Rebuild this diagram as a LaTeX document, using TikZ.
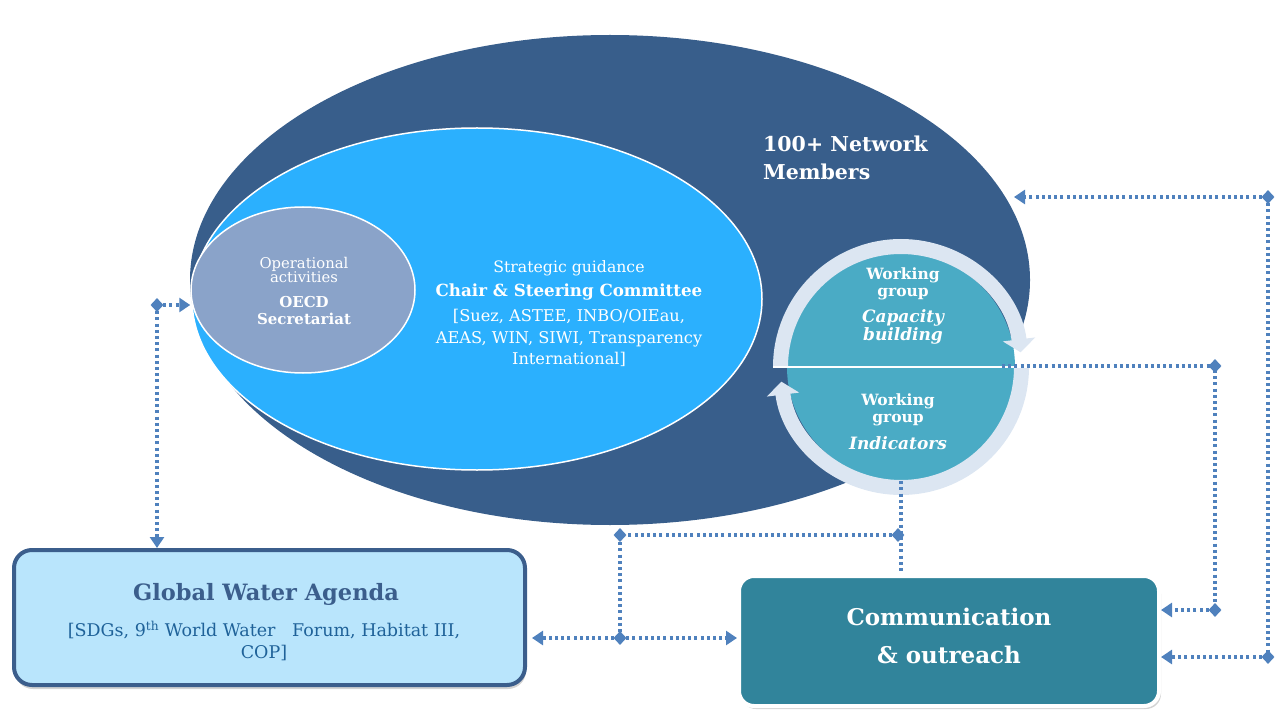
\documentclass[tikz,border=0pt]{standalone}
\usepackage{fontspec}
\setmainfont{DejaVu Serif}
\usetikzlibrary{shapes.geometric,arrows.meta,shadows}
\definecolor{netblue}{HTML}{385E8B}
\definecolor{chairblue}{HTML}{2BB0FE}
\definecolor{oecdgray}{HTML}{8AA3C9}
\definecolor{wgteal}{HTML}{4AABC5}
\definecolor{ringcol}{HTML}{DCE6F2}
\definecolor{commteal}{HTML}{31849B}
\definecolor{gwafill}{HTML}{B9E5FC}
\definecolor{gwaborder}{HTML}{3B5E8C}
\definecolor{gwatext}{HTML}{1F6299}
\definecolor{conn}{HTML}{4F81BD}
\tikzset{
  ell/.style={ellipse, inner sep=0pt},
  wtxt/.style={text=white, align=center, inner sep=0pt},
  dotline/.style={draw=conn, line width=3.2pt, dash pattern=on 3pt off 3.2pt},
  tip/.style={-{Triangle[length=11pt,width=14pt]}},
  dmd/.style={diamond, fill=conn, minimum width=13pt, minimum height=14pt, inner sep=0pt},
  ringline/.style={draw=ringcol, line width=15pt, -{Triangle[length=13pt,width=32pt]}}
}
\begin{document}
\begin{tikzpicture}[x=1pt,y=-1pt]
\useasboundingbox (0,0) rectangle (1282,711);
% ellipses
\node[ell, fill=netblue, minimum width=840pt, minimum height=490pt] (net) at (610,280) {};
\node[ell, fill=chairblue, draw=white, line width=1.5pt, minimum width=570pt, minimum height=342pt] (chair) at (477,299) {};
\node[ell, fill=oecdgray, draw=white, line width=1.5pt, minimum width=224pt, minimum height=166pt] (oecd) at (303,290) {};
% texts in ellipses
\node[wtxt, font=\fontsize{14.8}{14}\selectfont] (optxt) at (304,270) {Operational\\activities};
\node[wtxt, font=\bfseries\fontsize{15}{17}\selectfont] (oecdtxt) at (304,311) {OECD\\Secretariat};
\node[wtxt, font=\fontsize{15.7}{22}\selectfont] (sgtxt) at (569,268) {Strategic guidance};
\node[wtxt, font=\bfseries\fontsize{16.7}{22}\selectfont] (cstxt) at (569,292) {Chair \& Steering Committee};
\node[wtxt, font=\fontsize{16.2}{21.5}\selectfont] (memtxt) at (569,338) {[Suez, ASTEE, INBO/OIEau,\\AEAS, WIN, SIWI, Transparency\\International]};
\node[wtxt, align=left, anchor=north west, font=\bfseries\fontsize{20.5}{28}\selectfont] (nettxt) at (763,136) {100+ Network\\Members};
% working group circle
\node[circle, fill=wgteal, minimum size=228pt, inner sep=0pt] (wg) at (901,367) {};
\draw[ringline] (wg.center) ++(180:120.5) arc[start angle=180, end angle=353, radius=120.5];
\draw[ringline] (wg.center) ++(0:120.5) arc[start angle=0, end angle=173, radius=120.5];
\draw[white, line width=2.5pt] ([xshift=-14pt]wg.west) -- ([xshift=14pt]wg.east);
\node[wtxt, font=\bfseries\fontsize{15.5}{17}\selectfont] (wg1a) at (903,284) {Working\\group};
\node[wtxt, font=\bfseries\itshape\fontsize{17}{18}\selectfont] (wg1b) at (903,327) {Capacity\\building};
\node[wtxt, font=\bfseries\fontsize{15.5}{17}\selectfont] (wg2a) at (898,410) {Working\\group};
\node[wtxt, font=\bfseries\itshape\fontsize{17}{18}\selectfont] (wg2b) at (898,443) {Indicators};
% boxes
\node[draw=gwaborder, line width=4pt, fill=gwafill, rounded corners=18pt, minimum width=511pt, minimum height=135pt,
      drop shadow={opacity=0.35, shadow xshift=1pt, shadow yshift=-4pt}] (gwa) at (269.5,617.5) {};
\node[text=gwaborder, font=\bfseries\fontsize{22.5}{24}\selectfont, inner sep=0pt] (gwatitle) at (266,594) {Global Water Agenda};
\node[text=gwatext, align=center, inner sep=0pt, font=\fontsize{17.5}{22}\selectfont] (gwasub) at (264,641)
  {[SDGs, 9\textsuperscript{th} World Water\ \ \ Forum, Habitat III,\\COP]};
\node[draw=white, line width=4pt, fill=commteal, rounded corners=15pt, minimum width=420pt, minimum height=130pt,
      drop shadow={opacity=0.35, shadow xshift=2pt, shadow yshift=-3pt}] (comm) at (949,641) {};
\node[wtxt, font=\bfseries\fontsize{23}{38}\selectfont] (commtxt) at (949,636) {Communication\\\& outreach};
% connector points
\coordinate (netin) at (1014,197);
\node[dmd] (d1) at (157,305) {};
\node[dmd] (d2) at (1268,197) {};
\node[dmd] (d3) at (1268,657) {};
\node[dmd] (d4) at (1215,366) {};
\node[dmd] (d5) at (1215,610) {};
\node[dmd] (d6) at (898,535) {};
\node[dmd] (d7) at (620,535) {};
\node[dmd] (d8) at (620,638) {};
\coordinate (wgline) at (1002,366);
\coordinate (gwain) at (532,638);
% connectors
\draw[dotline, tip] (d1.center) -- (d1.center -| oecd.west);
\draw[dotline, tip] (d1.center) -- (d1.center |- gwa.north);
\draw[dotline, tip] (d2.center) -- (netin);
\draw[dotline] (d2.center) -- (d3.center);
\draw[dotline, tip] (d3.center) -- (d3.center -| comm.east);
\draw[dotline] (wgline) -- (d4.center) -- (d5.center);
\draw[dotline, tip] (d5.center) -- (d5.center -| comm.east);
\draw[dotline] (wg.south) -- (comm.north -| wg.south);
\draw[dotline] (d6.center) -- (d7.center) -- (d8.center);
\draw[dotline, tip] (d8.center) -- (d8.center -| comm.west);
\draw[dotline, tip] (d8.center) -- (gwain);
\end{tikzpicture}
\end{document}
